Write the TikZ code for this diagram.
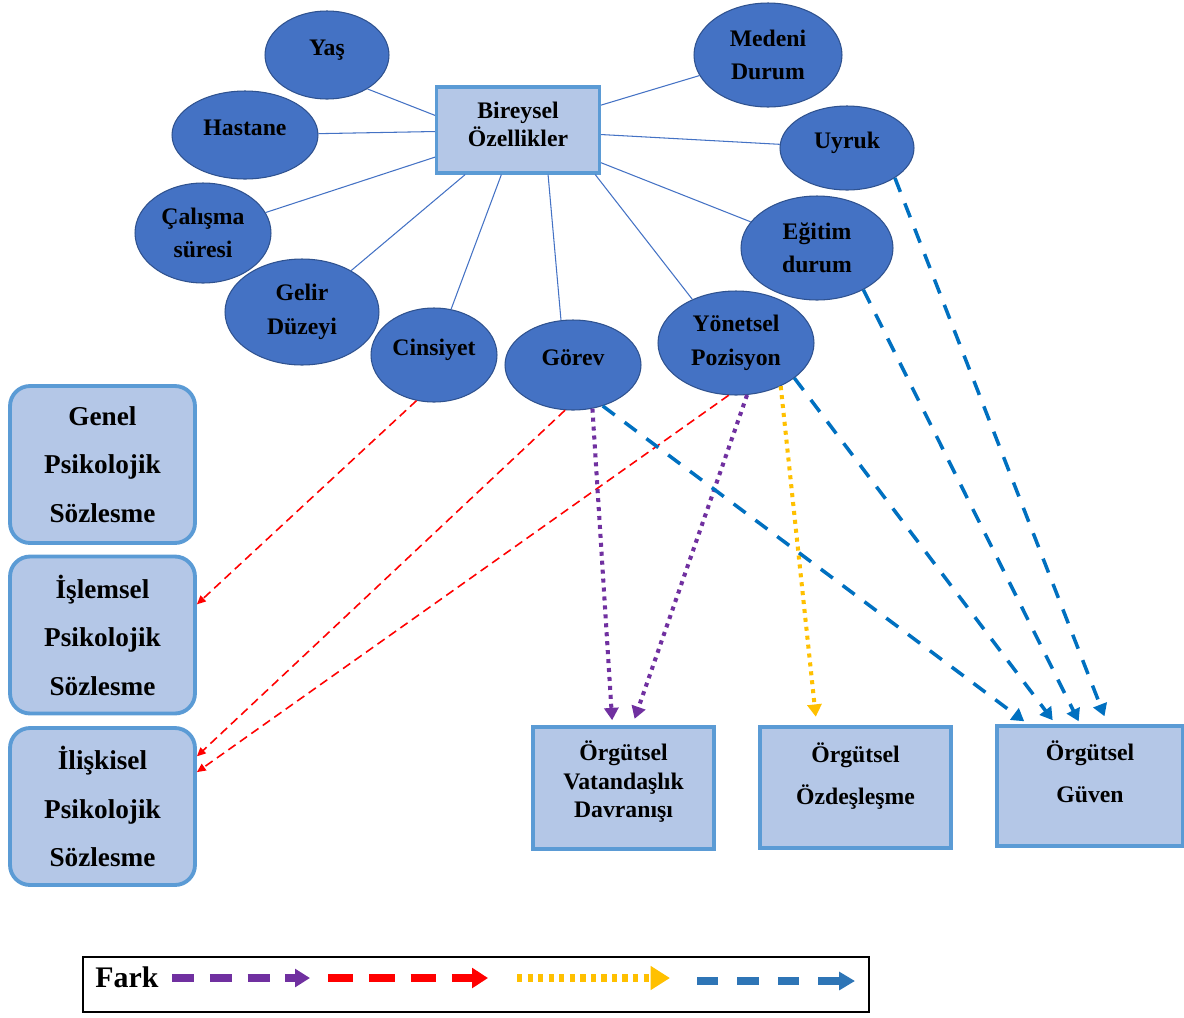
\documentclass[tikz,border=0pt]{standalone}
\usepackage{fontspec}
\setmainfont{Liberation Serif}
\usetikzlibrary{arrows, arrows.meta}
\usetikzlibrary{shapes.geometric}

\definecolor{ovalblue}{HTML}{4472C4}
\definecolor{ovalline}{HTML}{2F528F}
\definecolor{boxfill}{HTML}{B4C7E7}
\definecolor{boxline}{HTML}{5B9BD5}
\definecolor{farkpurple}{HTML}{7030A0}
\definecolor{farkred}{HTML}{FF0000}
\definecolor{farkyellow}{HTML}{FFC000}
\definecolor{farkblue}{HTML}{0070C0}
\definecolor{legendblue}{HTML}{2E75B6}

\begin{document}
\begin{tikzpicture}[x=0.02cm, y=-0.02cm,
    oval/.style={ellipse, draw=ovalline, fill=ovalblue, line width=0.6pt, inner sep=0pt, align=center, font=\fontsize{13.5}{16}\selectfont\bfseries},
    oneline/.style={oval, text height=9pt, text depth=9pt},
    bbox/.style={rectangle, draw=boxline, fill=boxfill, line width=1.8pt, inner sep=0pt, align=center, font=\fontsize{13.5}{16}\selectfont\bfseries},
    sbox/.style={bbox, line width=2.2pt, rounded corners=0.4cm, minimum width=3.7cm, minimum height=3.14cm, font=\fontsize{15.5}{18.6}\selectfont\bfseries},
    link/.style={draw=ovalblue, line width=0.6pt},
    redarr/.style={draw=farkred, line width=0.9pt, dash pattern=on 5pt off 3pt, -{Triangle[length=5pt, width=4.5pt]}},
    purparr/.style={draw=farkpurple, line width=2.3pt, dash pattern=on 2.3pt off 2.8pt, -{Triangle[length=7pt, width=8pt]}},
    yelarr/.style={draw=farkyellow, line width=2.3pt, dash pattern=on 2.3pt off 2.8pt, -{Triangle[length=7pt, width=8pt]}},
    bluearr/.style={draw=farkblue, line width=2pt, dash pattern=on 8.5pt off 7pt, -{Triangle[length=7pt, width=8pt]}}]

    \useasboundingbox (0,0) rectangle (1184,1018);

    % personal characteristics
    \node[bbox, minimum width=3.26cm, minimum height=1.72cm] (bireysel) at (518,130) {Bireysel\\Özellikler\\[-9pt]\mbox{}};

    \node[oneline, minimum width=2.48cm, minimum height=1.76cm] (yas) at (327,55) {Yaş};
    \node[oneline, minimum width=2.92cm, minimum height=1.76cm] (hastane) at (245,135) {Hastane};
    \node[oval, minimum width=2.72cm, minimum height=2.0cm] (calisma) at (203,233) {Çalışma\\[3pt]süresi};
    \node[oval, minimum width=3.08cm, minimum height=2.12cm] (gelir) at (302,312) {Gelir\\[3pt]Düzeyi};
    \node[oneline, minimum width=2.52cm, minimum height=1.88cm] (cinsiyet) at (434,355) {Cinsiyet};
    \node[oneline, minimum width=2.72cm, minimum height=1.8cm] (gorev) at (573,365) {Görev};
    \node[oval, minimum width=3.12cm, minimum height=2.08cm] (yonetsel) at (736,343) {Yönetsel\\[3pt]Pozisyon};
    \node[oval, minimum width=3.04cm, minimum height=2.08cm] (egitim) at (817,248) {Eğitim\\[3pt]durum};
    \node[oneline, minimum width=2.68cm, minimum height=1.68cm] (uyruk) at (847,148) {Uyruk};
    \node[oval, minimum width=2.96cm, minimum height=2.08cm] (medeni) at (768,55) {Medeni\\[3pt]Durum};

    \draw[link] (bireysel.170) -- (yas.-40);
    \draw[link] (bireysel) -- (hastane);
    \draw[link] (bireysel) -- (calisma);
    \draw[link] (bireysel) -- (gelir);
    \draw[link] (bireysel) -- (cinsiyet);
    \draw[link] (bireysel.-56) -- (gorev.105);
    \draw[link] (bireysel.-30) -- (yonetsel.135);
    \draw[link] (bireysel) -- (egitim);
    \draw[link] (bireysel) -- (uyruk);
    \draw[link] (bireysel) -- (medeni);

    % psychological contract
    \node[sbox] (genel) at (102.5,464.5) {Genel\\[9pt]Psikolojik\\[9pt]Sözlesme};
    \node[sbox] (islemsel) at (102.5,635) {İşlemsel\\[9pt]Psikolojik\\[9pt]Sözlesme};
    \node[sbox] (iliskisel) at (102.5,806.5) {İlişkisel\\[9pt]Psikolojik\\[9pt]Sözlesme};

    % organisational outcomes
    \node[bbox, minimum width=3.62cm, minimum height=2.44cm] (ovd) at (623.5,788) {Örgütsel\\Vatandaşlık\\Davranışı\\[-6pt]\mbox{}};
    \node[bbox, minimum width=3.82cm, minimum height=2.42cm] (oo) at (855.5,787.5) {Örgütsel\\[8pt]Özdeşleşme\\ \mbox{}};
    \node[bbox, minimum width=3.72cm, minimum height=2.4cm] (og) at (1090,786) {Örgütsel\\[8pt]Güven\\ \mbox{}};

    \draw[redarr] (cinsiyet.-111) -- (islemsel.18);
    \draw[redarr] (gorev.-100) -- (iliskisel.28);
    \draw[redarr] (yonetsel.-98) -- (iliskisel.20);

    \draw[purparr, shorten >=3pt] (gorev.-66) -- (ovd.100);
    \draw[purparr, shorten >=4pt] (yonetsel.-78) -- (ovd.82);
    \draw[yelarr, shorten >=5pt] (yonetsel.-44) -- (oo.122);

    \draw[bluearr, shorten >=3pt] (gorev.-54) -- (og.135);
    \draw[bluearr, shorten >=3pt] (yonetsel.-31) -- (og.119);
    \draw[bluearr, shorten >=2pt] (egitim.-42) -- (og.99);
    \draw[bluearr, shorten >=5pt] (uyruk.-32) -- (og.74);

    % legend
    \node[draw=black, line width=1.2pt, minimum width=15.72cm, minimum height=1.1cm, inner sep=0pt] (legend) at (476,984.5) {};
    \node[font=\fontsize{17}{20}\selectfont\bfseries, inner sep=0pt] (fark) at (127,977) {Fark};
    \coordinate (p1) at (172,978);
    \coordinate (p2) at (310,978);
    \coordinate (r1) at (328,978);
    \coordinate (r2) at (488,978);
    \coordinate (y1) at (517,978);
    \coordinate (y2) at (670,978);
    \coordinate (b1) at (697,981);
    \coordinate (b2) at (855,981);
    \draw[farkpurple, line width=4pt, dash pattern=on 12.5pt off 9pt, -{Triangle[length=8.5pt, width=10pt]}] (p1) -- (p2);
    \draw[farkred, line width=4pt, dash pattern=on 14.5pt off 9pt, -{Triangle[length=9pt, width=11pt]}] (r1) -- (r2);
    \draw[farkyellow, line width=4pt, dash pattern=on 3pt off 3pt, -{Triangle[length=11pt, width=13pt]}] (y1) -- (y2);
    \draw[legendblue, line width=4pt, dash pattern=on 12pt off 11pt, -{Triangle[length=9pt, width=10pt]}] (b1) -- (b2);
  \end{tikzpicture}
\end{document}
